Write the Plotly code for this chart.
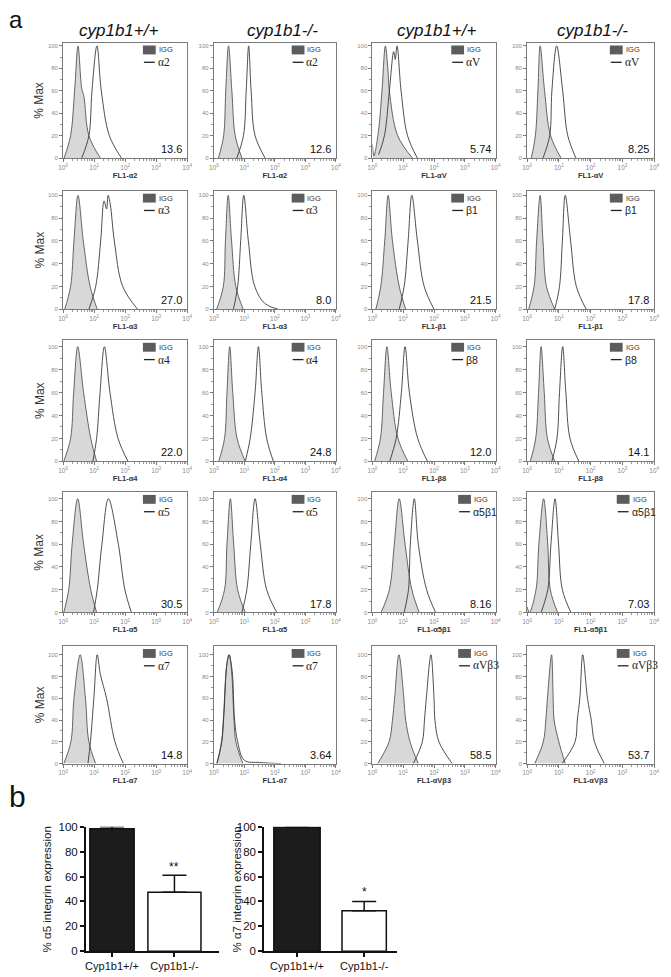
import plotly.graph_objects as go

W, H = 671, 977

# ---- data ----
GENOTYPES = ["cyp1b1+/+", "cyp1b1-/-", "cyp1b1+/+", "cyp1b1-/-"]

MARKERS = ["α2", "α2", "αV", "αV",
           "α3", "α3", "β1", "β1",
           "α4", "α4", "β8", "β8",
           "α5", "α5", "α5β1", "α5β1",
           "α7", "α7", "αVβ3", "αVβ3"]

MFI = ["13.6", "12.6", "5.74", "8.25",
       "27.0", "8.0", "21.5", "17.8",
       "22.0", "24.8", "12.0", "14.1",
       "30.5", "17.8", "8.16", "7.03",
       "14.8", "3.64", "58.5", "53.7"]

# histogram outlines as (log10 FL1, % max) points
IGG_CURVES = [
    [(0.03, 0), (0.24, 20), (0.37, 60), (0.48, 100), (0.6, 62), (0.67, 55), (0.83, 20), (1.2, 0)],
    [(0.15, 0), (0.32, 20), (0.39, 60), (0.48, 100), (0.59, 60), (0.7, 20), (0.92, 0)],
    [(0.0, 12), (0.05, 2), (0.2, 25), (0.31, 60), (0.42, 100), (0.5, 80), (0.55, 60), (0.82, 20), (1.3, 0)],
    [(0.13, 0), (0.26, 20), (0.34, 60), (0.41, 100), (0.55, 60), (0.74, 20), (1.07, 0)],
    [(0.05, 0), (0.24, 20), (0.35, 60), (0.48, 100), (0.65, 60), (0.87, 20), (1.1, 0)],
    [(0.09, 0), (0.31, 20), (0.38, 60), (0.47, 100), (0.58, 60), (0.72, 20), (0.96, 0)],
    [(0.11, 0), (0.27, 20), (0.4, 60), (0.51, 100), (0.65, 60), (0.87, 20), (1.08, 0)],
    [(0.05, 0), (0.22, 20), (0.3, 60), (0.41, 100), (0.5, 60), (0.61, 20), (0.87, 0)],
    [(0.02, 0), (0.24, 20), (0.34, 60), (0.47, 100), (0.66, 60), (0.89, 20), (1.08, 0)],
    [(0.16, 0), (0.35, 20), (0.43, 60), (0.52, 100), (0.62, 60), (0.76, 20), (1.03, 0)],
    [(0.07, 0), (0.26, 20), (0.36, 60), (0.47, 100), (0.61, 60), (0.83, 20), (1.15, 0)],
    [(0.1, 0), (0.27, 20), (0.36, 60), (0.44, 100), (0.54, 60), (0.64, 20), (0.87, 0)],
    [(0.02, 0), (0.18, 20), (0.29, 60), (0.47, 100), (0.66, 60), (0.89, 20), (1.08, 0)],
    [(0.11, 0), (0.35, 20), (0.43, 60), (0.54, 100), (0.65, 60), (0.78, 20), (1.03, 0)],
    [(0.28, 0), (0.55, 20), (0.71, 60), (0.87, 100), (1.06, 60), (1.28, 20), (1.52, 0)],
    [(0.0, 5), (0.07, 0), (0.28, 20), (0.37, 60), (0.52, 100), (0.65, 60), (0.73, 20), (0.96, 0)],
    [(0.02, 0), (0.25, 20), (0.35, 60), (0.55, 100), (0.72, 60), (0.83, 20), (1.05, 0)],
    [(0.1, 0), (0.25, 20), (0.32, 45), (0.42, 90), (0.5, 100), (0.58, 85), (0.66, 40), (0.72, 20), (0.95, 0)],
    [(0.17, 0), (0.54, 20), (0.65, 40), (0.72, 60), (0.86, 100), (1.02, 60), (1.08, 40), (1.22, 20), (1.49, 0)],
    [(0.24, 0), (0.51, 20), (0.59, 40), (0.64, 60), (0.77, 100), (0.82, 60), (0.85, 40), (1.0, 20), (1.2, 0)],
]

AB_CURVES = [
    [(0.6, 0), (0.83, 20), (0.93, 60), (1.09, 100), (1.23, 60), (1.49, 20), (1.88, 0)],
    [(0.75, 0), (0.97, 20), (1.06, 60), (1.14, 100), (1.22, 60), (1.35, 20), (1.68, 0)],
    [(0.2, 3), (0.39, 20), (0.55, 60), (0.69, 95), (0.74, 88), (0.8, 100), (0.93, 60), (1.14, 20), (1.46, 0)],
    [(0.5, 0), (0.71, 20), (0.78, 60), (0.93, 100), (1.12, 60), (1.28, 20), (1.54, 0)],
    [(0.83, 0), (1.05, 20), (1.21, 60), (1.32, 95), (1.4, 88), (1.45, 100), (1.52, 92), (1.65, 60), (1.92, 20), (2.4, 0)],
    [(0.64, 0), (0.78, 20), (0.88, 60), (0.98, 100), (1.13, 60), (1.34, 20), (1.67, 5), (2.1, 0)],
    [(0.87, 0), (1.03, 20), (1.16, 60), (1.28, 100), (1.46, 60), (1.68, 20), (2.0, 0)],
    [(0.87, 0), (1.02, 20), (1.11, 60), (1.2, 100), (1.37, 60), (1.55, 20), (1.86, 0)],
    [(0.96, 0), (1.08, 20), (1.19, 60), (1.33, 100), (1.51, 60), (1.77, 20), (2.09, 0)],
    [(1.03, 0), (1.19, 20), (1.35, 60), (1.46, 100), (1.57, 60), (1.73, 20), (1.95, 0)],
    [(0.56, 0), (0.77, 20), (0.94, 60), (1.06, 100), (1.2, 60), (1.47, 20), (1.79, 0)],
    [(0.78, 0), (0.94, 20), (1.02, 60), (1.12, 100), (1.22, 60), (1.35, 20), (1.63, 0)],
    [(0.98, 0), (1.1, 20), (1.25, 60), (1.46, 100), (1.78, 60), (1.99, 20), (2.2, 0)],
    [(0.92, 0), (1.08, 20), (1.21, 60), (1.35, 100), (1.52, 60), (1.73, 20), (2.06, 0)],
    [(1.03, 0), (1.17, 20), (1.23, 60), (1.36, 100), (1.49, 60), (1.76, 20), (2.05, 0)],
    [(0.44, 0), (0.65, 20), (0.75, 60), (0.88, 100), (0.99, 60), (1.11, 20), (1.38, 0)],
    [(0.8, 0), (0.88, 20), (0.99, 60), (1.1, 100), (1.2, 82), (1.4, 60), (1.67, 20), (1.94, 0)],
    [(0.1, 0), (0.26, 20), (0.33, 45), (0.43, 92), (0.5, 100), (0.6, 85), (0.68, 40), (0.78, 20), (1.0, 3), (1.5, 1), (2.2, 0)],
    [(1.33, 0), (1.62, 20), (1.69, 40), (1.75, 60), (1.9, 100), (2.0, 60), (2.03, 40), (2.16, 20), (2.59, 0)],
    [(1.1, 0), (1.51, 20), (1.58, 40), (1.66, 60), (1.75, 100), (1.9, 60), (2.02, 40), (2.12, 20), (2.43, 0)],
]

BAR_GROUPS = ["Cyp1b1+/+", "Cyp1b1-/-"]
A5_EXPR = [98.5, 47.5]
A5_ERR = [1.5, 13.5]
A7_EXPR = [99.8, 32.5]
A7_ERR = [0.0, 7.5]

# ---- layout in pixels ----
COL_L = [59, 212, 373, 530]
COL_R = [185, 336, 498, 659]
ROW_T = [37, 187, 338, 492, 648]
ROW_B = [154, 307, 461, 614, 767]
ROW_YTOP = [103, 104, 106, 106, 108]
HEADER_X = [115, 282, 438, 596]


def px(x):
    return x / W


def py(y):
    return 1 - y / H


FONT = "Liberation Sans, Arial, sans-serif"
SERIF = "Liberation Serif, Times New Roman, serif"

fig = go.Figure()
annotations = []
shapes = []
layout_axes = {}


def note(x, y, text, size, color="#111", family=FONT, xanchor="center", angle=0):
    annotations.append(dict(x=px(x), y=py(y), text=text, showarrow=False,
                            xref="paper", yref="paper", xanchor=xanchor, yanchor="middle",
                            textangle=angle, font=dict(family=family, size=size, color=color)))


minor_x = [m * 10 ** d for d in range(4) for m in range(2, 10)]

for i in range(20):
    r, c = divmod(i, 4)
    n = i + 1
    sx = "" if n == 1 else str(n)
    L, R, T, B = COL_L[c], COL_R[c], ROW_T[r], ROW_B[r]

    layout_axes["xaxis" + sx] = dict(
        domain=[px(L), px(R)], anchor="y" + sx, type="log", range=[0, 4],
        showline=True, mirror=True, linecolor="#7a7a7a", linewidth=1,
        ticks="outside", ticklen=3, tickcolor="#7a7a7a",
        tickvals=[1, 10, 100, 1000, 10000],
        ticktext=["10<sup>%d</sup>" % k for k in range(5)],
        tickfont=dict(family=FONT, size=6.5, color="#8a8a8a"),
        minor=dict(tickvals=minor_x, ticks="outside", ticklen=2, tickcolor="#9a9a9a"),
        showgrid=False, zeroline=False,
        title=dict(text="<b>FL1-" + MARKERS[i] + "</b>", standoff=1,
                   font=dict(family=FONT, size=7.5, color="#333")),
    )
    layout_axes["yaxis" + sx] = dict(
        domain=[py(B), py(T)], anchor="x" + sx, range=[0, ROW_YTOP[r]],
        showline=True, mirror=True, linecolor="#7a7a7a", linewidth=1,
        ticks="outside", ticklen=3, tickcolor="#7a7a7a",
        tickvals=[0, 20, 40, 60, 80, 100],
        tickfont=dict(family=FONT, size=6, color="#8a8a8a"),
        minor=dict(tickvals=[10, 30, 50, 70, 90], ticks="outside", ticklen=2, tickcolor="#9a9a9a"),
        showgrid=False, zeroline=False,
    )

    ig = IGG_CURVES[i]
    fig.add_trace(go.Scatter(
        x=[10 ** p[0] for p in ig], y=[p[1] for p in ig],
        mode="lines", line=dict(color="#555", width=0.9, shape="spline", smoothing=1),
        fill="tozeroy", fillcolor="#d8d8d8",
        xaxis="x" + sx, yaxis="y" + sx, showlegend=False, hoverinfo="skip",
    ))
    ab = AB_CURVES[i]
    fig.add_trace(go.Scatter(
        x=[10 ** p[0] for p in ab], y=[p[1] for p in ab],
        mode="lines", line=dict(color="#3a3a3a", width=0.9, shape="spline", smoothing=1),
        xaxis="x" + sx, yaxis="y" + sx, showlegend=False, hoverinfo="skip",
    ))

    # legend box inside each panel
    m = MARKERS[i]
    off = 45 if len(m) <= 2 else 38
    shapes.append(dict(type="rect", xref="paper", yref="paper",
                       x0=px(R - off), x1=px(R - off + 13), y0=py(T + 12), y1=py(T + 3),
                       fillcolor="#5c5c5c", line=dict(width=0)))
    note(R - off + 14, T + 7.5, "IGG", 7.5, "#333", xanchor="left")
    shapes.append(dict(type="line", xref="paper", yref="paper",
                       x0=px(R - off + 1), x1=px(R - off + 12), y0=py(T + 20), y1=py(T + 20),
                       line=dict(color="#222", width=1.3)))
    serif = m.startswith("α") and m != "α5β1"
    note(R - off + 13, T + 20, m, 11.5 if serif else 10.5, "#222",
         family=SERIF if serif else FONT, xanchor="left")
    note(R - 3, B - 9, MFI[i], 11, "#111", xanchor="right")
    if c == 0:
        note(35, (T + B) / 2, "% Max", 12, "#333", angle=-90)

for c, g in enumerate(GENOTYPES):
    note(HEADER_X[c], 25, "<i>%s</i>" % g, 17)

note(11, 14, "a", 24)
note(13, 800, "b", 30)

# ---- panel b bar charts ----
bar_specs = [
    ("21", A5_EXPR, A5_ERR, [82, 217], [-0.42, 1.71], [0.71, 0.85], "% α5 integrin expression", 43, "**", 172, 872),
    ("22", A7_EXPR, A7_ERR, [263, 398], [-0.49, 1.49], [0.69, 0.66], "% α7 integrin expression", 236, "*", 365, 897),
]
for sx, vals, errs, xdom, xr, widths, ytitle, tx, star, stx, sty in bar_specs:
    layout_axes["xaxis" + sx] = dict(
        domain=[px(xdom[0]), px(xdom[1])], anchor="y" + sx, range=xr,
        showline=True, linecolor="#111", linewidth=1.5, ticks="outside", ticklen=4,
        tickcolor="#111", tickwidth=1.5, tickvals=[0, 1], ticktext=BAR_GROUPS,
        tickfont=dict(family=FONT, size=11, color="#111"), showgrid=False, zeroline=False,
    )
    layout_axes["yaxis" + sx] = dict(
        domain=[py(957), py(831)], anchor="x" + sx, range=[0, 100],
        showline=True, linecolor="#111", linewidth=1.5, ticks="outside", ticklen=4,
        tickcolor="#111", tickwidth=1.5, tickvals=[0, 20, 40, 60, 80, 100],
        tickfont=dict(family=FONT, size=11.5, color="#111"), showgrid=False, zeroline=False,
    )
    fig.add_trace(go.Bar(
        x=[0, 1], y=vals, width=widths,
        marker=dict(color=["#1c1c1c", "white"], line=dict(color="#111", width=1.5)),
        error_y=dict(type="data", array=errs, arrayminus=[0, 0], symmetric=False,
                     color="#111", thickness=1.5, width=12),
        xaxis="x" + sx, yaxis="y" + sx, showlegend=False, cliponaxis=False,
    ))
    note(tx, 894, ytitle, 11.5, "#222", angle=-90)
    note(stx, sty, star, 12)

fig.update_layout(
    width=W, height=H,
    margin=dict(l=0, r=0, t=0, b=0),
    paper_bgcolor="white", plot_bgcolor="white",
    annotations=annotations, shapes=shapes,
    **layout_axes,
)

fig.write_html("out.html", config={"displayModeBar": False},
               post_script="document.body.style.margin='0px';document.body.style.overflow='hidden';")
